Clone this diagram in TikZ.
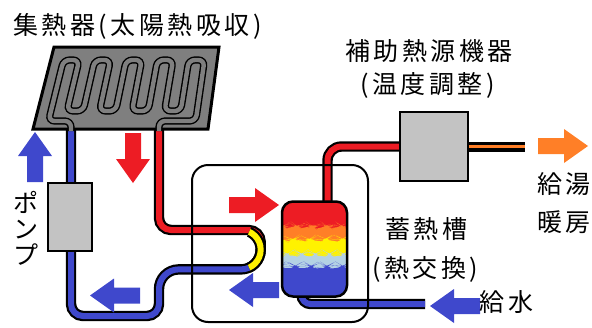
\documentclass[tikz,border=0pt]{standalone}
\usepackage{fontspec}
\newfontfamily\jpfont{Noto Sans CJK JP}[LetterSpace=14]
\usetikzlibrary{backgrounds}

\definecolor{hotred}{HTML}{ED1C24}
\definecolor{coldblue}{HTML}{3F48CC}
\definecolor{warmyellow}{HTML}{FFF200}
\definecolor{tapor}{HTML}{FF7F27}
\definecolor{paleblue}{HTML}{B4D2E4}
\definecolor{panelgray}{HTML}{7F7F7F}
\definecolor{boxgray}{HTML}{C3C3C3}

\begin{document}
\begin{tikzpicture}[x=1pt,y=-1pt,
    pipe/.style={line width=2.2pt, double=#1, double distance=6pt},
    coil/.style={line width=1.4pt, double=panelgray, double distance=4.4pt, rounded corners=6pt},
    unit/.style={draw, line width=2.5pt, fill=boxgray, inner sep=0pt},
    lbl/.style={inner sep=0pt, font=\jpfont\fontsize{25}{26}\selectfont},
    flowarrow/.pic={\fill (0,-8) -- (26,-8) -- (26,-17) -- (50,0) -- (26,17) -- (26,8) -- (0,8) -- cycle;}]
    \useasboundingbox (0,0) rectangle (592,327);

    % units
    \node[unit, minimum width=44pt, minimum height=68pt] (pump) at (70,217) {};
    \node[unit, minimum width=68pt, minimum height=69pt] (heater) at (434,146.5) {};
    % tank, layers drawn around its centre
    \node[draw, line width=2.5pt, rounded corners=11pt, minimum width=65pt, minimum height=95pt, inner sep=0pt,
        path picture={
            \fill[hotred] (-45,-60) rectangle (45,60);
            \fill[tapor] plot[smooth, domain=-45:45, samples=61] (\x,{-21+1.1*sin(24*(\x+45))+0.5*sin(47*(\x+45)+30)}) -- (45,60) -- (-45,60) -- cycle;
            \fill[warmyellow] plot[smooth, domain=-45:45, samples=61] (\x,{-8+1.1*sin(22*(\x+45)+80)+0.5*sin(43*(\x+45))}) -- (45,60) -- (-45,60) -- cycle;
            \fill[paleblue] plot[smooth, domain=-45:45, samples=61] (\x,{7+1.1*sin(26*(\x+45)+150)+0.5*sin(51*(\x+45)+90)}) -- (45,60) -- (-45,60) -- cycle;
            \fill[coldblue] plot[smooth, domain=-45:45, samples=61] (\x,{19+1.1*sin(23*(\x+45)+40)+0.5*sin(45*(\x+45)+200)}) -- (45,60) -- (-45,60) -- cycle;
        }] (tank) at (314.5,249) {};
    \node[draw, line width=2pt, rounded corners=16pt, minimum width=176pt, minimum height=157pt] (store) at (280,243.5) {};

    \coordinate (coll in) at (71,129);
    \coordinate (coll out) at (159,129);
    \coordinate (hot end) at (525,146.5);
    \coordinate (cold in) at (425,304);

    % piping
    \begin{scope}[on background layer]
        \draw[pipe=hotred, rounded corners=12pt] (coll out) -- (159,230) -- (260.7,230) [rounded corners=19.7pt] -- (260.7,249.7);
        \draw[pipe=coldblue, rounded corners=19.7pt] (260.7,249.7) -- (260.7,269.4) -- (159,269.4) [rounded corners=12pt] -- (159,316) -- (71,316) -- (coll in);
        \begin{scope}
            \clip (241,249.7) -- (266,195) -- (300,195) -- (300,305) -- (266,305) -- cycle;
            \draw[pipe=warmyellow, rounded corners=19.7pt] (230,230) -- (260.7,230) -- (260.7,269.4) -- (230,269.4);
        \end{scope}
        \draw[pipe=hotred, rounded corners=14pt] ([xshift=13pt, yshift=-10pt]tank.north) |- (heater.west);
        \draw[line width=3.2pt, double=tapor, double distance=3.6pt] (heater.east) -- (hot end);
        \draw[pipe=coldblue, rounded corners=9pt] ([xshift=-13pt, yshift=10pt]tank.south) |- (cold in);
    \end{scope}

    % collector panel
    \draw[line width=3pt, fill=panelgray] (54,47) -- (219,47) -- (208,129) -- (33,129) -- cycle;
    \draw[coil] (71,131) -- (71,121) -- (48.5,121) -- (63.5,60) -- (79.2,60) -- (67,111) -- (83.2,111)
        -- (94.8,60) -- (110.5,60) -- (99.5,111) -- (115.7,111) -- (126.2,60) -- (141.8,60)
        -- (132,111) -- (148.2,111) -- (157.5,60) -- (173.1,60) -- (164.5,111) -- (180.7,111)
        -- (188.8,60) -- (204.5,60) -- (195.7,121) -- (159,121) -- (159,131);

    % flow arrows
    \pic[coldblue, rotate=90] at (35,182) {flowarrow};
    \pic[hotred, rotate=-90] at (133,133) {flowarrow};
    \pic[coldblue, rotate=180] at (140,295.5) {flowarrow};
    \pic[hotred] at (229,205) {flowarrow};
    \pic[coldblue, rotate=180] at (279,290) {flowarrow};
    \pic[coldblue, rotate=180] at (480,306) {flowarrow};
    \pic[tapor] at (538,146) {flowarrow};

    % labels
    \node[lbl] (collector label) at (137.5,26.5) {集熱器(太陽熱吸収)};
    \node[lbl] (heater label) at (429,51.5) {補助熱源機器};
    \node[lbl] (heater note) at (427.5,85.5) {(温度調整)};
    \node[lbl] (store label) at (426,229.5) {蓄熱槽};
    \node[lbl] (store note) at (425,269) {(熱交換)};
    \node[lbl] (supply label) at (564,184.5) {給湯};
    \node[lbl] (heating label) at (564,222) {暖房};
    \node[lbl] (feed label) at (506.5,302.5) {給水};
    \node[lbl, align=center] (pump label) at (25.5,228.5) {ポ\\ン\\プ};
\end{tikzpicture}
\end{document}
